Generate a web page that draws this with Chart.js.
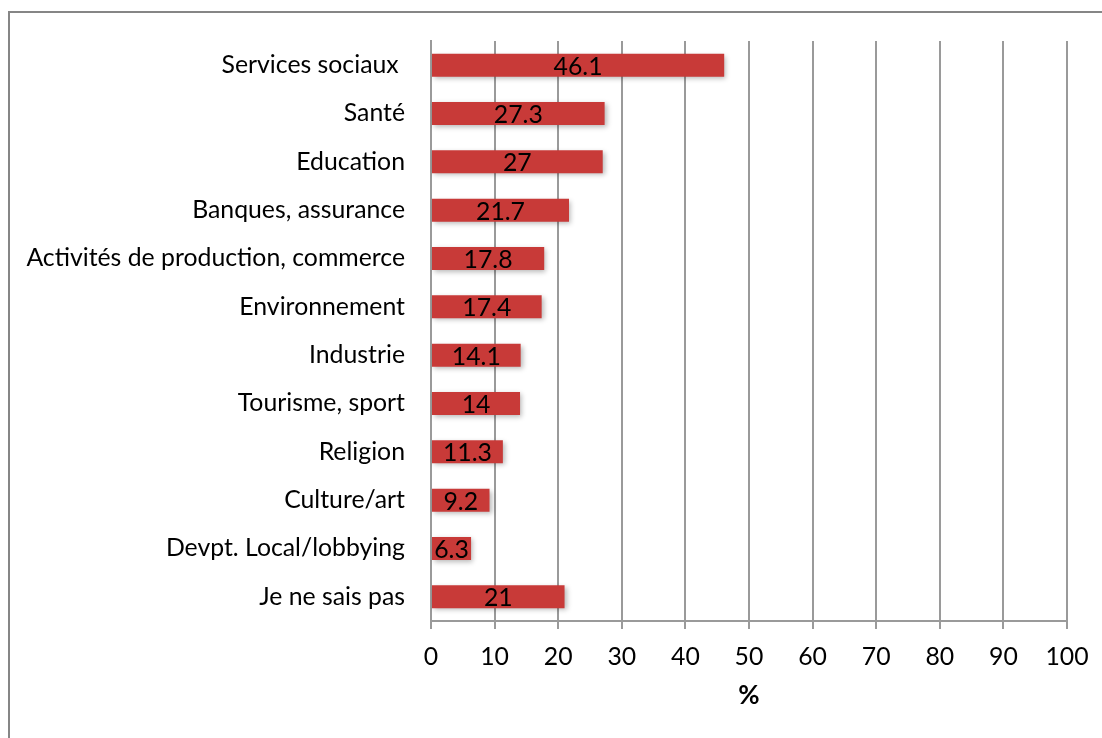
<!DOCTYPE html>
<html>
<head>
<meta charset="utf-8">
<script src="https://cdn.jsdelivr.net/npm/chart.js@4.4.0/dist/chart.umd.min.js"></script>
<style>
  html, body { margin: 0; padding: 0; background: #fff; }
  #wrap { position: relative; width: 1102px; height: 738px; }
  #frame { position: absolute; left: 8px; top: 11px; width: 1100px; height: 740px;
           border-top: 2px solid #868686; border-left: 2px solid #868686; }
  canvas { position: absolute; left: 0; top: 0; }
</style>
</head>
<body>
<div id="wrap">
  <div id="frame"></div>
  <canvas id="chart" width="1102" height="738"></canvas>
</div>
<script>
// categories, top to bottom
const categories = [
  'Services sociaux ', 'Santé', 'Education', 'Banques, assurance',
  'Activités de production, commerce', 'Environnement', 'Industrie',
  'Tourisme, sport', 'Religion', 'Culture/art', 'Devpt. Local/lobbying',
  'Je ne sais pas'
];
const values = [46.1, 27.3, 27, 21.7, 17.8, 17.4, 14.1, 14, 11.3, 9.2, 6.3, 21];
const xMin = 0;
const xMax = 100;
const xStep = 10;
const axisTitle = '%';

const FONT = 'Lato, "Open Sans", sans-serif';
const FONT_SIZE = 24.8;
const GRID = '#9a9a9a';

function barGradient(context) {
  const chart = context.chart;
  const el = context.element;
  if (!chart.chartArea || !el || el.y === undefined) return '#c83a38';
  const h = el.height || 23;
  const top = el.y - h / 2, bottom = el.y + h / 2;
  const g = chart.ctx.createLinearGradient(0, top, 0, bottom);
  g.addColorStop(0, '#d0423e');
  g.addColorStop(0.45, '#c53936');
  g.addColorStop(1, '#9c2a28');
  return g;
}

// drop shadow under the bars
const shadowPlugin = {
  id: 'barShadow',
  beforeDatasetsDraw(chart) {
    const ctx = chart.ctx;
    ctx.save();
    ctx.shadowColor = 'rgba(0,0,0,0.28)';
    ctx.shadowBlur = 5;
    ctx.shadowOffsetX = 2;
    ctx.shadowOffsetY = 2;
  },
  afterDatasetsDraw(chart) {
    chart.ctx.restore();
  }
};

// value labels in the middle of each bar
const valueLabels = {
  id: 'valueLabels',
  afterDatasetsDraw(chart) {
    const ctx = chart.ctx;
    const meta = chart.getDatasetMeta(0);
    ctx.save();
    ctx.fillStyle = '#000';
    ctx.font = FONT_SIZE + 'px ' + FONT;
    ctx.textAlign = 'center';
    ctx.textBaseline = 'middle';
    meta.data.forEach((bar, i) => {
      const cx = (bar.base + bar.x) / 2;
      ctx.fillText(String(values[i]), cx, bar.y + 1.5);
    });
    ctx.restore();
  }
};

new Chart(document.getElementById('chart'), {
  type: 'bar',
  data: {
    labels: categories,
    datasets: [{
      data: values,
      backgroundColor: barGradient,
      borderWidth: 0,
      barPercentage: 0.475,
      categoryPercentage: 1
    }]
  },
  options: {
    indexAxis: 'y',
    responsive: false,
    animation: false,
    events: [],
    layout: { padding: { left: 0, right: 35, top: 41, bottom: 0 } },
    plugins: {
      legend: { display: false },
      tooltip: { enabled: false }
    },
    scales: {
      x: {
        min: xMin,
        max: xMax,
        afterFit(scale) { scale.height = 117; },
        grid: { color: GRID, lineWidth: 2, tickLength: 8, drawTicks: true },
        border: { color: GRID, width: 2 },
        ticks: { stepSize: xStep, color: '#000', padding: 13, font: { family: FONT, size: FONT_SIZE } },
        title: {
          display: true, text: axisTitle, color: '#000',
          font: { family: FONT, size: 26, weight: 'bold' },
          padding: { top: 0, bottom: 27 }
        }
      },
      y: {
        afterFit(scale) { scale.width = 431; },
        grid: { display: false, drawTicks: false },
        border: { display: true, color: GRID, width: 2 },
        ticks: { color: '#000', padding: 26, font: { family: FONT, size: FONT_SIZE } }
      }
    }
  },
  plugins: [shadowPlugin, valueLabels]
});
</script>
</body>
</html>
